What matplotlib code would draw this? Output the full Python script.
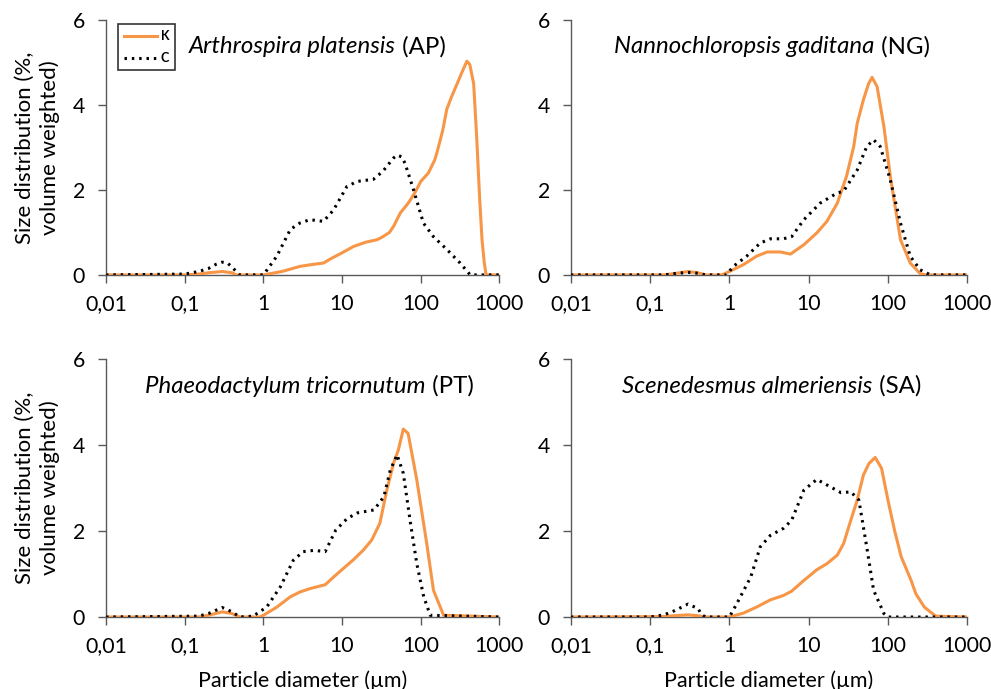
import matplotlib
matplotlib.use("Agg")
import matplotlib.pyplot as plt
from matplotlib.ticker import FixedLocator, FixedFormatter, NullLocator

plt.rcParams['font.family'] = ['Lato', 'DejaVu Sans']

# Arthrospira platensis (AP)
ap_k_x = [0.01, 0.1, 0.15, 0.2, 0.3, 0.4, 0.45, 1.0, 1.5, 1.8, 2.9, 4, 5.8, 7.5, 10, 14, 20, 28, 33, 40,
          45, 55, 70, 85, 100, 125, 150, 160, 190, 214, 247, 290, 330, 385, 420, 470, 515, 560, 600, 640, 676, 1000]
ap_k_y = [0, 0, 0.02, 0.05, 0.08, 0.05, 0, 0, 0.06, 0.09, 0.2, 0.24, 0.28, 0.4, 0.52, 0.67, 0.77, 0.83, 0.9, 1.0,
          1.14, 1.46, 1.7, 1.95, 2.2, 2.4, 2.7, 2.87, 3.4, 3.9, 4.2, 4.5, 4.75, 5.03, 4.95, 4.5, 3.2, 1.8, 0.83, 0.3, 0, 0]
ap_c_x = [0.01, 0.1, 0.15, 0.2, 0.25, 0.3, 0.35, 0.4, 0.5, 1.0, 1.48, 2.2, 2.9, 3.9, 5.8, 7.8, 11.5, 15.5, 25, 33,
          45, 50, 57, 63, 81, 108, 145, 214, 316, 425, 1000]
ap_c_y = [0, 0.02, 0.08, 0.15, 0.25, 0.3, 0.28, 0.18, 0, 0, 0.44, 1.07, 1.22, 1.3, 1.26, 1.53, 2.08, 2.2, 2.25, 2.44,
          2.75, 2.82, 2.78, 2.63, 2.0, 1.22, 0.9, 0.6, 0.28, 0, 0]

# Nannochloropsis gaditana (NG)
ng_k_x = [0.01, 0.15, 0.2, 0.3, 0.4, 0.5, 0.8, 1.0, 1.5, 2.2, 3.0, 4.4, 5.9, 8.7, 12.7, 17, 23, 30, 37, 41,
          49, 57, 63, 73, 89, 107, 144, 191, 255, 300, 1000]
ng_k_y = [0, 0, 0.03, 0.08, 0.05, 0, 0, 0.08, 0.24, 0.44, 0.54, 0.54, 0.49, 0.71, 0.99, 1.26, 1.69, 2.32, 3.02, 3.57,
          4.12, 4.5, 4.65, 4.43, 3.49, 2.32, 0.83, 0.28, 0.03, 0, 0]
ng_c_x = [0.01, 0.15, 0.2, 0.3, 0.4, 0.5, 0.92, 1.12, 1.65, 2.45, 3.3, 4.8, 6.1, 8.7, 14, 23, 27.6, 41, 54, 66,
          80, 107, 144, 191, 255, 344, 1000]
ng_c_y = [0, 0, 0.03, 0.06, 0.04, 0, 0, 0.2, 0.44, 0.75, 0.85, 0.85, 0.9, 1.3, 1.69, 1.93, 1.97, 2.47, 3.02, 3.18,
          3.02, 2.24, 1.22, 0.44, 0.12, 0, 0]

# Phaeodactylum tricornutum (PT)
pt_k_x = [0.01, 0.15, 0.2, 0.3, 0.4, 0.5, 0.9, 1.0, 1.48, 2.2, 2.9, 3.9, 6.1, 7.8, 10.4, 13.7, 18.5, 23.8, 30.2, 37,
          45, 52, 60, 69, 89, 119, 145, 195, 1000]
pt_k_y = [0, 0, 0.04, 0.12, 0.08, 0, 0, 0.04, 0.23, 0.47, 0.58, 0.66, 0.75, 0.93, 1.13, 1.32, 1.55, 1.79, 2.18, 2.95,
          3.57, 3.89, 4.37, 4.27, 3.19, 1.71, 0.62, 0.04, 0]
pt_c_x = [0.01, 0.15, 0.2, 0.3, 0.4, 0.5, 0.74, 1.1, 1.64, 2.4, 3.2, 4.4, 6.1, 8.3, 11.6, 15.6, 25.5, 34, 41, 50,
          60, 74, 89, 109, 132, 1000]
pt_c_y = [0, 0.02, 0.08, 0.22, 0.12, 0, 0.02, 0.23, 0.7, 1.32, 1.52, 1.55, 1.52, 2.02, 2.29, 2.42, 2.49, 2.8, 3.42, 3.77,
          3.34, 2.18, 1.24, 0.47, 0.04, 0]

# Scenedesmus almeriensis (SA)
sa_k_x = [0.01, 0.15, 0.2, 0.3, 0.4, 0.5, 1.0, 1.5, 2.2, 3.3, 4.8, 6.1, 8.7, 12.7, 17, 23, 27.6, 34, 41, 49,
          57.6, 69, 83, 100, 121, 147, 196, 225, 288, 400, 1000]
sa_k_y = [0, 0.01, 0.03, 0.05, 0.03, 0, 0, 0.09, 0.23, 0.4, 0.5, 0.6, 0.85, 1.1, 1.24, 1.44, 1.71, 2.25, 2.72, 3.3,
          3.57, 3.71, 3.46, 2.72, 2.02, 1.4, 0.85, 0.54, 0.23, 0.02, 0]
sa_c_x = [0.01, 0.1, 0.15, 0.2, 0.3, 0.4, 0.45, 0.5, 1.0, 1.24, 1.86, 2.45, 3.3, 4.8, 6.1, 8.7, 12.7, 17, 25.6, 34,
          43, 54, 66, 89, 100, 1000]
sa_c_y = [0, 0, 0.05, 0.14, 0.3, 0.2, 0.05, 0, 0, 0.31, 0.93, 1.63, 1.9, 2.06, 2.25, 2.95, 3.2, 3.07, 2.89, 2.91,
          2.72, 1.63, 0.62, 0.08, 0, 0]

species = ["Arthrospira platensis", "Nannochloropsis gaditana",
           "Phaeodactylum tricornutum", "Scenedesmus almeriensis"]
codes = ["(AP)", "(NG)", "(PT)", "(SA)"]
x_ticks = [0.01, 0.1, 1, 10, 100, 1000]
x_labels = ["0,01", "0,1", "1", "10", "100", "1000"]
y_ticks = [0, 2, 4, 6]
series_labels = ["K", "C"]

panels = [(ap_k_x, ap_k_y, ap_c_x, ap_c_y), (ng_k_x, ng_k_y, ng_c_x, ng_c_y),
          (pt_k_x, pt_k_y, pt_c_x, pt_c_y), (sa_k_x, sa_k_y, sa_c_x, sa_c_y)]

orange = "#F79646"
axcol = "#595959"

fig = plt.figure(figsize=(9.91, 6.89), dpi=100)
rects = [[0.107, 0.601, 0.397, 0.370], [0.576, 0.601, 0.400, 0.370],
         [0.107, 0.1045, 0.397, 0.3745], [0.576, 0.1045, 0.400, 0.3745]]
# title start positions (axes fraction x)
title_x = [0.21, 0.11, 0.10, 0.13]

for i, (kx, ky, cx, cy) in enumerate(panels):
    ax = fig.add_axes(rects[i])
    ax.plot(kx, ky, color=orange, lw=2.2, solid_joinstyle='round', label=series_labels[0], zorder=3)
    ax.plot(cx, cy, color="black", lw=2.2, linestyle=(0, (0.8, 1.6)), dash_capstyle='butt',
            label=series_labels[1], zorder=4)
    ax.set_xscale("log")
    ax.set_xlim(0.01, 1000)
    ax.set_ylim(0, 6)
    ax.xaxis.set_major_locator(FixedLocator(x_ticks))
    ax.xaxis.set_major_formatter(FixedFormatter(x_labels))
    ax.xaxis.set_minor_locator(NullLocator())
    ax.set_yticks(y_ticks)
    for s in ["top", "right"]:
        ax.spines[s].set_visible(False)
    for s in ["left", "bottom"]:
        ax.spines[s].set_color(axcol)
        ax.spines[s].set_linewidth(1.0)
    ax.tick_params(axis="both", direction="out", length=6, width=1.0, color=axcol,
                   labelsize=15.3, labelcolor="black")
    ax.tick_params(axis="x", pad=8)
    ax.tick_params(axis="y", pad=9)

    t = ax.text(title_x[i], 0.895, species[i], transform=ax.transAxes, fontsize=17.3,
                style="italic", va="center", ha="left")
    ax.annotate(" " + codes[i], xy=(1, 0.5), xycoords=t, fontsize=17.3, va="center", ha="left")

    if i % 2 == 0:
        ax.set_ylabel("Size distribution (%,\nvolume weighted)", fontsize=16, labelpad=9,
                      linespacing=1.3)
    if i >= 2:
        ax.set_xlabel("Particle diameter (µm)", fontsize=15.5, labelpad=10)
    if i == 0:
        leg = ax.legend(loc="upper left", bbox_to_anchor=(0.015, 1.01),
                        frameon=True, fancybox=False, handlelength=2.6, handletextpad=0.3,
                        borderpad=0.5, labelspacing=0.8, prop={"weight": "bold", "size": 9})
        leg.get_frame().set_edgecolor("black")
        leg.get_frame().set_linewidth(1.2)

fig.savefig("out.png", dpi=100)
